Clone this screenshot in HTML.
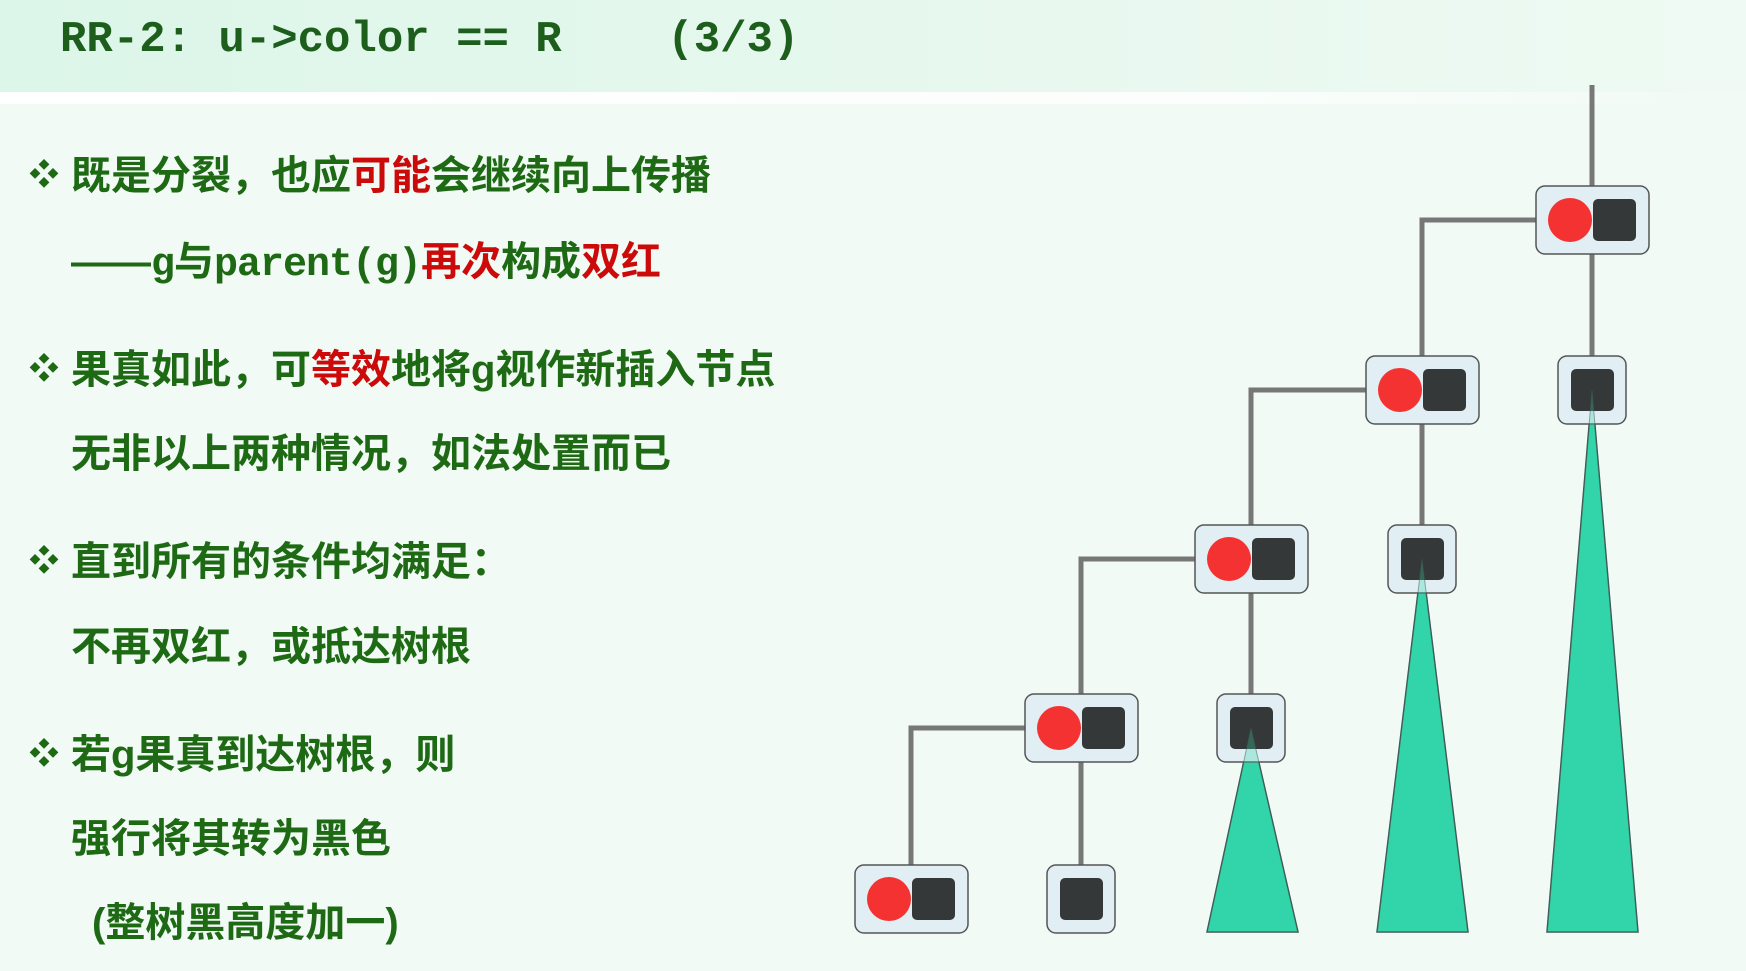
<!DOCTYPE html>
<html><head><meta charset="utf-8"><style>
body{margin:0;width:1746px;height:969px;overflow:hidden;background:#f1faf5;position:relative;font-family:"Liberation Sans","Noto Sans CJK SC",sans-serif}
.hdr{position:absolute;left:0;top:0;width:1746px;height:92px;background:linear-gradient(90deg,#dcf6e9,#e8f8ef 60%,#eefaf3)}
.strip{position:absolute;left:0;top:92px;width:1746px;height:12px;background:linear-gradient(90deg,#ffffff,#fbfefc 70%,#f1faf5)}
.title{position:absolute;left:60px;top:12px;font-family:"Liberation Mono",monospace;font-weight:bold;font-size:44px;color:#1d5e1d;white-space:pre;line-height:56px}
.t{position:absolute;left:71px;font-size:40px;font-weight:bold;color:#1e6a14;white-space:pre;line-height:48px}
.b{position:absolute;left:29px;font-size:30px;color:#1e6a14;line-height:48px}
.r{color:#cc0a0a}
.m{font-family:"Liberation Mono",monospace;font-weight:bold;letter-spacing:-1px;font-size:40px}
</style></head><body>
<div class="hdr"></div><div class="strip"></div>
<div class="title">RR-2: u-&gt;color == R    (3/3)</div>
<div class="b" style="top:152px">❖</div>
<div class="t" style="top:152px">既是分裂，也应<span class="r">可能</span>会继续向上传播</div>
<div class="t" style="top:238px">——<span class="m">g</span>与<span class="m">parent(g)</span><span class="r">再次</span>构成<span class="r">双红</span></div>
<div class="b" style="top:346px">❖</div>
<div class="t" style="top:346px">果真如此，可<span class="r">等效</span>地将g视作新插入节点</div>
<div class="t" style="top:430px">无非以上两种情况，如法处置而已</div>
<div class="b" style="top:538px">❖</div>
<div class="t" style="top:538px">直到所有的条件均满足：</div>
<div class="t" style="top:623px">不再双红，或抵达树根</div>
<div class="b" style="top:731px">❖</div>
<div class="t" style="top:731px">若g果真到达树根，则</div>
<div class="t" style="top:815px">强行将其转为黑色</div>
<div class="t" style="top:899px;left:92px">(整树黑高度加一)</div>
<svg width="1746" height="969" style="position:absolute;left:0;top:2px">
<g stroke="#777" stroke-width="5" fill="none">
<path d="M1592 83V388"/>
<path d="M1536 218H1422V388"/>
<path d="M1422 388V557"/>
<path d="M1366 388H1251V557"/>
<path d="M1251 557V726"/>
<path d="M1195 557H1081V726"/>
<path d="M1081 726V897"/>
<path d="M1025 726H911V897"/>
</g>
<g fill="#33d4aa" stroke="#3f5550" stroke-width="1.5">
<polygon points="1251,726 1207,930 1298,930"/>
<polygon points="1422,557 1377,930 1468,930"/>
<polygon points="1592,388 1547,930 1638,930"/>
</g>
<g stroke="#555" stroke-width="1.5">
<rect x="1536" y="184" width="113" height="68" rx="9" fill="#e1eff4"/>
<circle cx="1570" cy="218" r="22" fill="#f53232" stroke="none"/>
<rect x="1593" y="197" width="43" height="42" rx="5" fill="#353839" stroke="none"/>
<rect x="1366" y="354" width="113" height="68" rx="9" fill="#e1eff4"/>
<circle cx="1400" cy="388" r="22" fill="#f53232" stroke="none"/>
<rect x="1423" y="367" width="43" height="42" rx="5" fill="#353839" stroke="none"/>
<rect x="1558" y="354" width="68" height="68" rx="9" fill="#e1eff4"/>
<rect x="1571" y="367" width="43" height="42" rx="5" fill="#353839" stroke="none"/>
<rect x="1195" y="523" width="113" height="68" rx="9" fill="#e1eff4"/>
<circle cx="1229" cy="557" r="22" fill="#f53232" stroke="none"/>
<rect x="1252" y="536" width="43" height="42" rx="5" fill="#353839" stroke="none"/>
<rect x="1388" y="523" width="68" height="68" rx="9" fill="#e1eff4"/>
<rect x="1401" y="536" width="43" height="42" rx="5" fill="#353839" stroke="none"/>
<rect x="1025" y="692" width="113" height="68" rx="9" fill="#e1eff4"/>
<circle cx="1059" cy="726" r="22" fill="#f53232" stroke="none"/>
<rect x="1082" y="705" width="43" height="42" rx="5" fill="#353839" stroke="none"/>
<rect x="1217" y="692" width="68" height="68" rx="9" fill="#e1eff4"/>
<rect x="1230" y="705" width="43" height="42" rx="5" fill="#353839" stroke="none"/>
<rect x="855" y="863" width="113" height="68" rx="9" fill="#e1eff4"/>
<circle cx="889" cy="897" r="22" fill="#f53232" stroke="none"/>
<rect x="912" y="876" width="43" height="42" rx="5" fill="#353839" stroke="none"/>
<rect x="1047" y="863" width="68" height="68" rx="9" fill="#e1eff4"/>
<rect x="1060" y="876" width="43" height="42" rx="5" fill="#353839" stroke="none"/>
</g>
<g fill="#33d4aa" fill-opacity="0.3" stroke="#3f5550" stroke-opacity="0.5" stroke-width="1">
<polygon points="1251,726 1207,930 1298,930"/>
<polygon points="1422,557 1377,930 1468,930"/>
<polygon points="1592,388 1547,930 1638,930"/>
</g>
</svg>
</body></html>
